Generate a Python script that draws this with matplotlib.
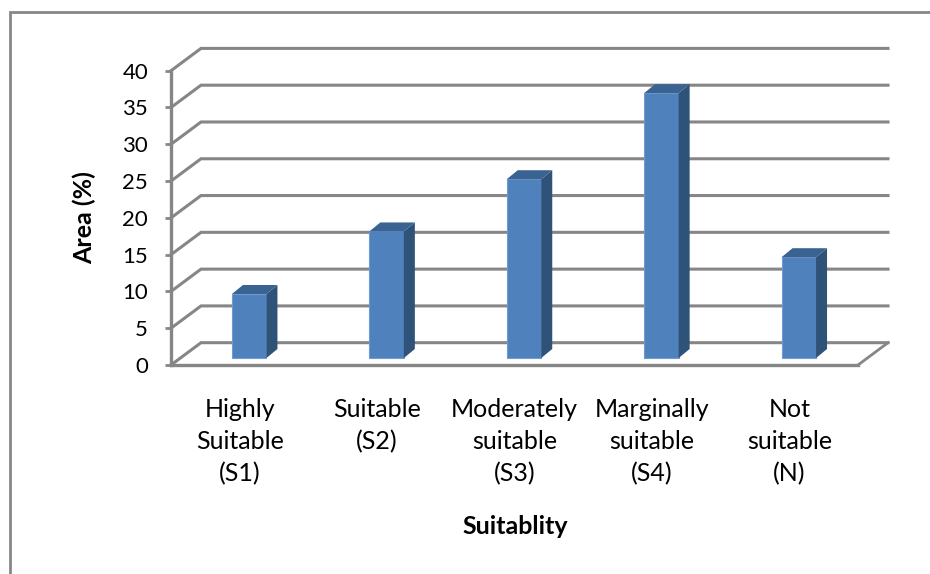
import matplotlib
matplotlib.use("Agg")
import matplotlib.pyplot as plt
from matplotlib.lines import Line2D
from matplotlib.patches import Polygon

categories = ["Highly\nSuitable\n(S1)", "Suitable\n(S2)", "Moderately\nsuitable\n(S3)",
              "Marginally\nsuitable\n(S4)", "Not\nsuitable\n(N)"]
values = [8.7, 17.2, 24.3, 36.0, 13.7]
y_ticks = [0, 5, 10, 15, 20, 25, 30, 35, 40]

W, H = 930, 574
GRID = "#868686"
FRONT = "#4f81bd"
SIDE = "#2f5279"
TOP = "#3a6391"

plt.rcParams["font.family"] = ["Lato", "DejaVu Sans"]

fig = plt.figure(figsize=(W / 100, H / 100), dpi=100)
# front plane of the 3d box: x 171..858, y 365..70.7 in pixels
ax = fig.add_axes([171 / W, 1 - 365 / H, (858 - 171) / W, (365 - 70.7) / H])
ax.set_xlim(0, 5)
ax.set_ylim(0, 40)
ax.patch.set_visible(False)

# depth of the box, and of the bars inside it, in data units
ux = 5 / (858 - 171)
uy = 40 / (365 - 70.7)
dx, dy = 30 * ux, 22.3 * uy
bar_dx, bar_dy = 11 * ux, 9 * uy
bar_w = 34.5 * ux
bar_shift = 9.5 * ux
bar_base = 7 * uy

for t in y_ticks:
    ax.plot([0, dx, 5 + dx], [t, t + dy, t + dy], color=GRID, lw=2.2, clip_on=False,
            solid_joinstyle="miter", zorder=1)
ax.plot([5, 5 + dx], [0, dy], color=GRID, lw=2.0, clip_on=False, zorder=1)

for i, v in enumerate(values):
    left = i + 0.5 - bar_w / 2 + bar_shift
    right = left + bar_w
    ax.bar(left, v, width=bar_w, bottom=bar_base, align="edge", color=FRONT,
           edgecolor="#6f9bd0", linewidth=0.8, zorder=3, clip_on=False)
    top = bar_base + v
    ax.add_patch(Polygon([(right, bar_base), (right + bar_dx, bar_base + bar_dy),
                          (right + bar_dx, top + bar_dy), (right, top)],
                         closed=True, facecolor=SIDE, edgecolor="none", zorder=3, clip_on=False))
    ax.add_patch(Polygon([(left, top), (left + bar_dx, top + bar_dy),
                          (right + bar_dx, top + bar_dy), (right, top)],
                         closed=True, facecolor=TOP, edgecolor="none", zorder=3, clip_on=False))

for side in ["top", "right"]:
    ax.spines[side].set_visible(False)
for side in ["left", "bottom"]:
    ax.spines[side].set_color(GRID)
    ax.spines[side].set_linewidth(2.4)
    ax.spines[side].set_zorder(2)

ax.set_yticks(y_ticks)
ax.set_xticks([i + 0.5 for i in range(len(categories))])
ax.set_xticklabels(categories, fontsize=18, color="black", linespacing=1.46)
ax.tick_params(axis="x", length=0, pad=24)
ax.tick_params(axis="y", length=4.5, width=2, color=GRID, labelsize=16, pad=12)

fig.text(515 / W, 1 - 527 / H, "Suitablity", fontsize=18, fontweight="bold",
         ha="center", va="center")
fig.text(84 / W, 1 - 218 / H, "Area (%)", fontsize=18, fontweight="bold",
         rotation=90, ha="center", va="center")

# outer chart frame, only top and left survive the crop
fig.add_artist(Line2D([10 / W, 10 / W, 1], [0, 1 - 12 / H, 1 - 12 / H], color=GRID, lw=2.0,
                      solid_joinstyle="miter"))

fig.savefig("out.png", dpi=100)
